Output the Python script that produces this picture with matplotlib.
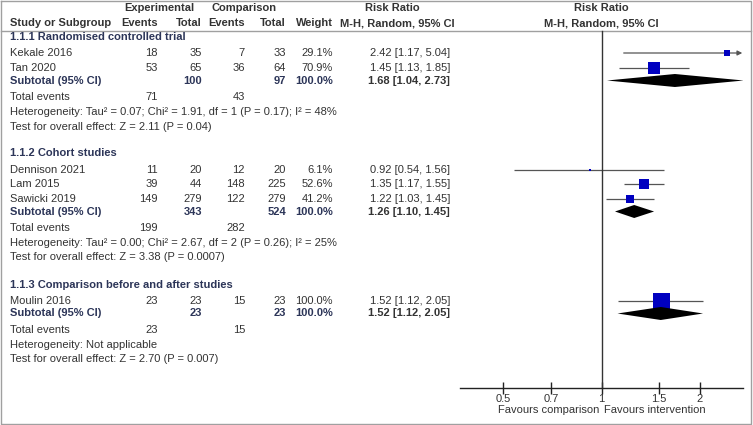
import numpy as np
import matplotlib
matplotlib.use("Agg")
import matplotlib.pyplot as plt

plt.rcParams['font.family'] = ['Liberation Sans', 'DejaVu Sans']

# ---------------- data ----------------
group_titles = ["1.1.1 Randomised controlled trial", "1.1.2 Cohort studies",
                "1.1.3 Comparison before and after studies"]
studies = ["Kekale 2016", "Tan 2020", "Dennison 2021", "Lam 2015", "Sawicki 2019", "Moulin 2016"]
study_group = [0, 0, 1, 1, 1, 2]
exp_events = [18, 53, 11, 39, 149, 23]
exp_total = [35, 65, 20, 44, 279, 23]
comp_events = [7, 36, 12, 148, 122, 15]
comp_total = [33, 64, 20, 225, 279, 23]
weights = [29.1, 70.9, 6.1, 52.6, 41.2, 100.0]
rr = [2.42, 1.45, 0.92, 1.35, 1.22, 1.52]
rr_lo = [1.17, 1.13, 0.54, 1.17, 1.03, 1.12]
rr_hi = [5.04, 1.85, 1.56, 1.55, 1.45, 2.05]

sub_exp_total = [100, 343, 23]
sub_comp_total = [97, 524, 23]
sub_rr = [1.68, 1.26, 1.52]
sub_lo = [1.04, 1.10, 1.12]
sub_hi = [2.73, 1.45, 2.05]
sub_exp_events = [71, 199, 23]
sub_comp_events = [43, 282, 15]
heterogeneity = ["Heterogeneity: Tau\u00b2 = 0.07; Chi\u00b2 = 1.91, df = 1 (P = 0.17); I\u00b2 = 48%",
                 "Heterogeneity: Tau\u00b2 = 0.00; Chi\u00b2 = 2.67, df = 2 (P = 0.26); I\u00b2 = 25%",
                 "Heterogeneity: Not applicable"]
overall = ["Test for overall effect: Z = 2.11 (P = 0.04)",
           "Test for overall effect: Z = 3.38 (P = 0.0007)",
           "Test for overall effect: Z = 2.70 (P = 0.007)"]
tick_values = [0.5, 0.7, 1, 1.5, 2]
tick_labels = ["0.5", "0.7", "1", "1.5", "2"]
x_range = (np.exp(-1), np.exp(1))

# ---------------- layout ----------------
W, H = 753, 425
fig = plt.figure(figsize=(W / 100, H / 100), dpi=100)
ax = fig.add_axes([0, 0, 1, 1])
ax.set_xlim(0, W)
ax.set_ylim(H, 0)
ax.axis('off')

PX0, PX1 = 460, 743
ax2 = fig.add_axes([PX0 / W, 0, (PX1 - PX0) / W, 1])
ax2.set_facecolor('none')
ax2.set_xscale('log')
ax2.set_xlim(*x_range)
ax2.set_ylim(H, 0)

TXT = '#333333'
NAVY = '#2c3558'
FS = 8
GRID = '#a0a0a0'

# borders
ax.plot([0.5, 751.5, 751.5, 0.5, 0.5], [0.5, 0.5, 424, 424, 0.5], color=GRID, lw=1)
ax.plot([0.5, 751.5], [30.5, 30.5], color=GRID, lw=1)

# column positions
X_NAME = 10
X_EE, X_ET, X_CE, X_CT, X_W, X_RR = 158, 202, 245, 286, 333, 450


def t(x, y, s, ha='left', bold=False, color=TXT):
    ax.text(x, y, s, ha=ha, va='center', fontsize=FS,
            fontweight='bold' if bold else 'normal', color=color)


# headers
t(159, 8, "Experimental", ha='center', bold=True)
t(244, 8, "Comparison", ha='center', bold=True)
t(392, 8, "Risk Ratio", ha='center', bold=True)
t(601, 8, "Risk Ratio", ha='center', bold=True)
t(X_NAME, 23, "Study or Subgroup", bold=True)
t(X_EE, 23, "Events", ha='right', bold=True)
t(X_ET, 23, "Total", ha='right', bold=True)
t(X_CE, 23, "Events", ha='right', bold=True)
t(X_CT, 23, "Total", ha='right', bold=True)
t(X_W, 23, "Weight", ha='right', bold=True)
t(397, 23, "M-H, Random, 95% CI", ha='center', bold=True)
t(601, 23, "M-H, Random, 95% CI", ha='center', bold=True)

xmin, xmax = x_range
y = 37.0
for g, title in enumerate(group_titles):
    t(X_NAME, y, title, bold=True, color=NAVY)
    idx = [i for i, sg in enumerate(study_group) if sg == g]
    sy = y + 16
    for k, i in enumerate(idx):
        yy = sy + 14.5 * k
        t(X_NAME, yy, studies[i])
        t(X_EE, yy, str(exp_events[i]), ha='right')
        t(X_ET, yy, str(exp_total[i]), ha='right')
        t(X_CE, yy, str(comp_events[i]), ha='right')
        t(X_CT, yy, str(comp_total[i]), ha='right')
        t(X_W, yy, f"{weights[i]:.1f}%", ha='right')
        t(X_RR, yy, f"{rr[i]:.2f} [{rr_lo[i]:.2f}, {rr_hi[i]:.2f}]", ha='right')
        # CI line
        lo = max(rr_lo[i], xmin)
        hi = min(rr_hi[i], xmax)
        if rr_hi[i] > xmax:
            ax2.annotate("", xy=(xmax * 0.995, yy), xytext=(lo, yy),
                         arrowprops=dict(arrowstyle='-|>', color='#555555', lw=0.9,
                                         mutation_scale=7, shrinkA=0, shrinkB=0))
        else:
            ax2.plot([lo, hi], [yy, yy], color='#555555', lw=0.9, solid_capstyle='butt')
        side_px = 2 + 15 * weights[i] / 100
        ax2.plot([rr[i]], [yy], marker='s', markersize=side_px * 0.72,
                 color='#0000c0', markeredgewidth=0, linestyle='none', zorder=3)
    last = sy + 14.5 * (len(idx) - 1)
    ys = last + 13
    t(X_NAME, ys, "Subtotal (95% CI)", bold=True, color=NAVY)
    t(X_ET, ys, str(sub_exp_total[g]), ha='right', bold=True, color=NAVY)
    t(X_CT, ys, str(sub_comp_total[g]), ha='right', bold=True, color=NAVY)
    t(X_W, ys, "100.0%", ha='right', bold=True, color=NAVY)
    t(X_RR, ys, f"{sub_rr[g]:.2f} [{sub_lo[g]:.2f}, {sub_hi[g]:.2f}]", ha='right', bold=True)
    ax2.fill([sub_lo[g], sub_rr[g], sub_hi[g], sub_rr[g]],
             [ys, ys - 6.5, ys, ys + 6.5], color='black', lw=0, zorder=4)
    yt = ys + 16.5
    t(X_NAME, yt, "Total events")
    t(X_EE, yt, str(sub_exp_events[g]), ha='right')
    t(X_CE, yt, str(sub_comp_events[g]), ha='right')
    yh = yt + 15
    t(X_NAME, yh, heterogeneity[g])
    yo = yh + 14.5
    t(X_NAME, yo, overall[g])
    y = yo + 27

# forest axis
AXIS_Y = 388
ax2.plot([1, 1], [30.5, AXIS_Y], color='#333333', lw=1)
for s in ['left', 'top', 'right']:
    ax2.spines[s].set_visible(False)
ax2.spines['bottom'].set_position(('data', AXIS_Y))
ax2.spines['bottom'].set_color('#222222')
ax2.spines['bottom'].set_linewidth(1)
ax2.set_yticks([])
ax2.set_xticks(tick_values)
ax2.set_xticklabels(tick_labels)
ax2.xaxis.set_minor_locator(matplotlib.ticker.NullLocator())
ax2.tick_params(axis='x', direction='inout', length=8, width=1, color='#222222',
                labelsize=FS, labelcolor=TXT, pad=0.5)
ax2.text(0.985, 410, "Favours comparison", ha='right', va='center', fontsize=FS, color=TXT)
ax2.text(1.015, 410, "Favours intervention", ha='left', va='center', fontsize=FS, color=TXT)

fig.savefig("out.png", dpi=100)
